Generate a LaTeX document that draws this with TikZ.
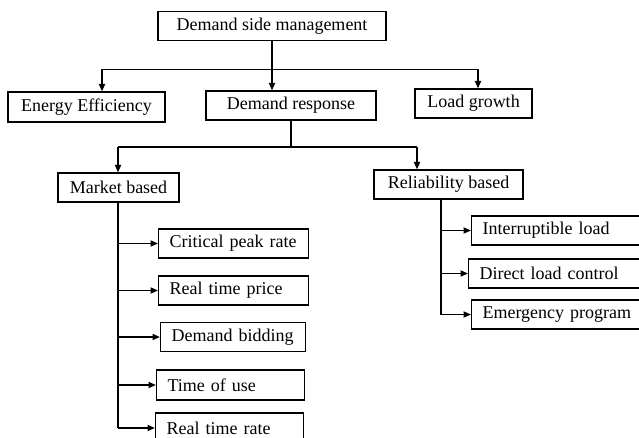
\documentclass[tikz,border=0pt]{standalone}
\usepackage{fontspec}
\setmainfont{Liberation Serif}
\usetikzlibrary{arrows.meta}

\begin{document}
\begin{tikzpicture}[x=1pt,y=-1pt,
	box/.style={draw,line width=1.1pt,minimum height=29pt,inner sep=0pt,
		font=\fontsize{18}{21}\selectfont},
	leaf/.style={box,anchor=west,align=left,inner xsep=11pt,text width=#1},
	conn/.style={line width=1.8pt},
	arr/.style={conn,-{Triangle[length=7.5pt,width=6pt]}}]
	\useasboundingbox (0,0) rectangle (639,438);
	\clip (0,0) rectangle (639,438);

	% Toppnivå
	\node[box,minimum width=228pt] (dsm) at (272,26) {Demand side management};

	% Første nivå
	\node[box,minimum width=157pt,minimum height=30pt] (ee) at (86.5,107) {Energy Efficiency};
	\node[box,minimum width=170pt] (dr) at (291,105.5) {Demand response};
	\node[box,minimum width=117pt] (lg) at (473.5,103.5) {Load growth};

	% Andre nivå
	\node[box,minimum width=121pt] (mb) at (118.5,187.5) {Market based};
	\node[box,minimum width=149pt] (rb) at (448.5,184.5) {Reliability based};

	% Markedsbaserte programmer
	\node[leaf=128pt] (cpr) at (158,243.5) {Critical peak rate};
	\node[leaf=128pt] (rtp) at (158,290.5) {Real time price};
	\node[leaf=123pt] (db) at (160,337) {Demand bidding};
	\node[leaf=126pt,minimum height=30pt] (tou) at (156,385) {Time of use};
	\node[leaf=126pt,minimum height=30pt] (rtr) at (155,428) {Real time rate};

	% Pålitelighetsbaserte programmer
	\node[leaf=168pt] (il) at (471,230.5) {Interruptible load};
	\node[leaf=168pt] (dlc) at (468,273.5) {Direct load control};
	\node[leaf=168pt] (ep) at (471,314.5) {Emergency program};

	% Fra DSM til første nivå
	\coordinate (b1) at (102,69.5);
	\coordinate (b2) at (478,69.5);
	\draw[arr] (dsm.south) -- (dsm.south |- dr.north);
	\draw[conn] (b1) -- (b2);
	\draw[arr] (b1) -- (b1 |- ee.north);
	\draw[arr] (b2) -- (b2 |- lg.north);

	% Fra DR til andre nivå
	\coordinate (b3) at (118,147);
	\coordinate (b4) at (417,147);
	\draw[conn] (dr.south) -- (dr.south |- b3);
	\draw[conn] (b3) -- (b4);
	\draw[arr] (b3) -- (b3 |- mb.north);
	\draw[arr] (b4) -- (b4 |- rb.north);

	% Markedsbasert gren
	\coordinate (mtop) at ([xshift=-0.5pt]mb.south);
	\draw[conn] (mtop) -- (mtop |- rtr.west);
	\foreach \n in {cpr,rtp,db,tou,rtr}
		\draw[arr] (mtop |- \n.west) -- (\n.west);

	% Pålitelighetsbasert gren
	\coordinate (rtop) at ([xshift=-7.5pt]rb.south);
	\draw[conn] (rtop) -- (rtop |- ep.west);
	\foreach \n in {il,dlc,ep}
		\draw[arr] (rtop |- \n.west) -- (\n.west);
\end{tikzpicture}
\end{document}
